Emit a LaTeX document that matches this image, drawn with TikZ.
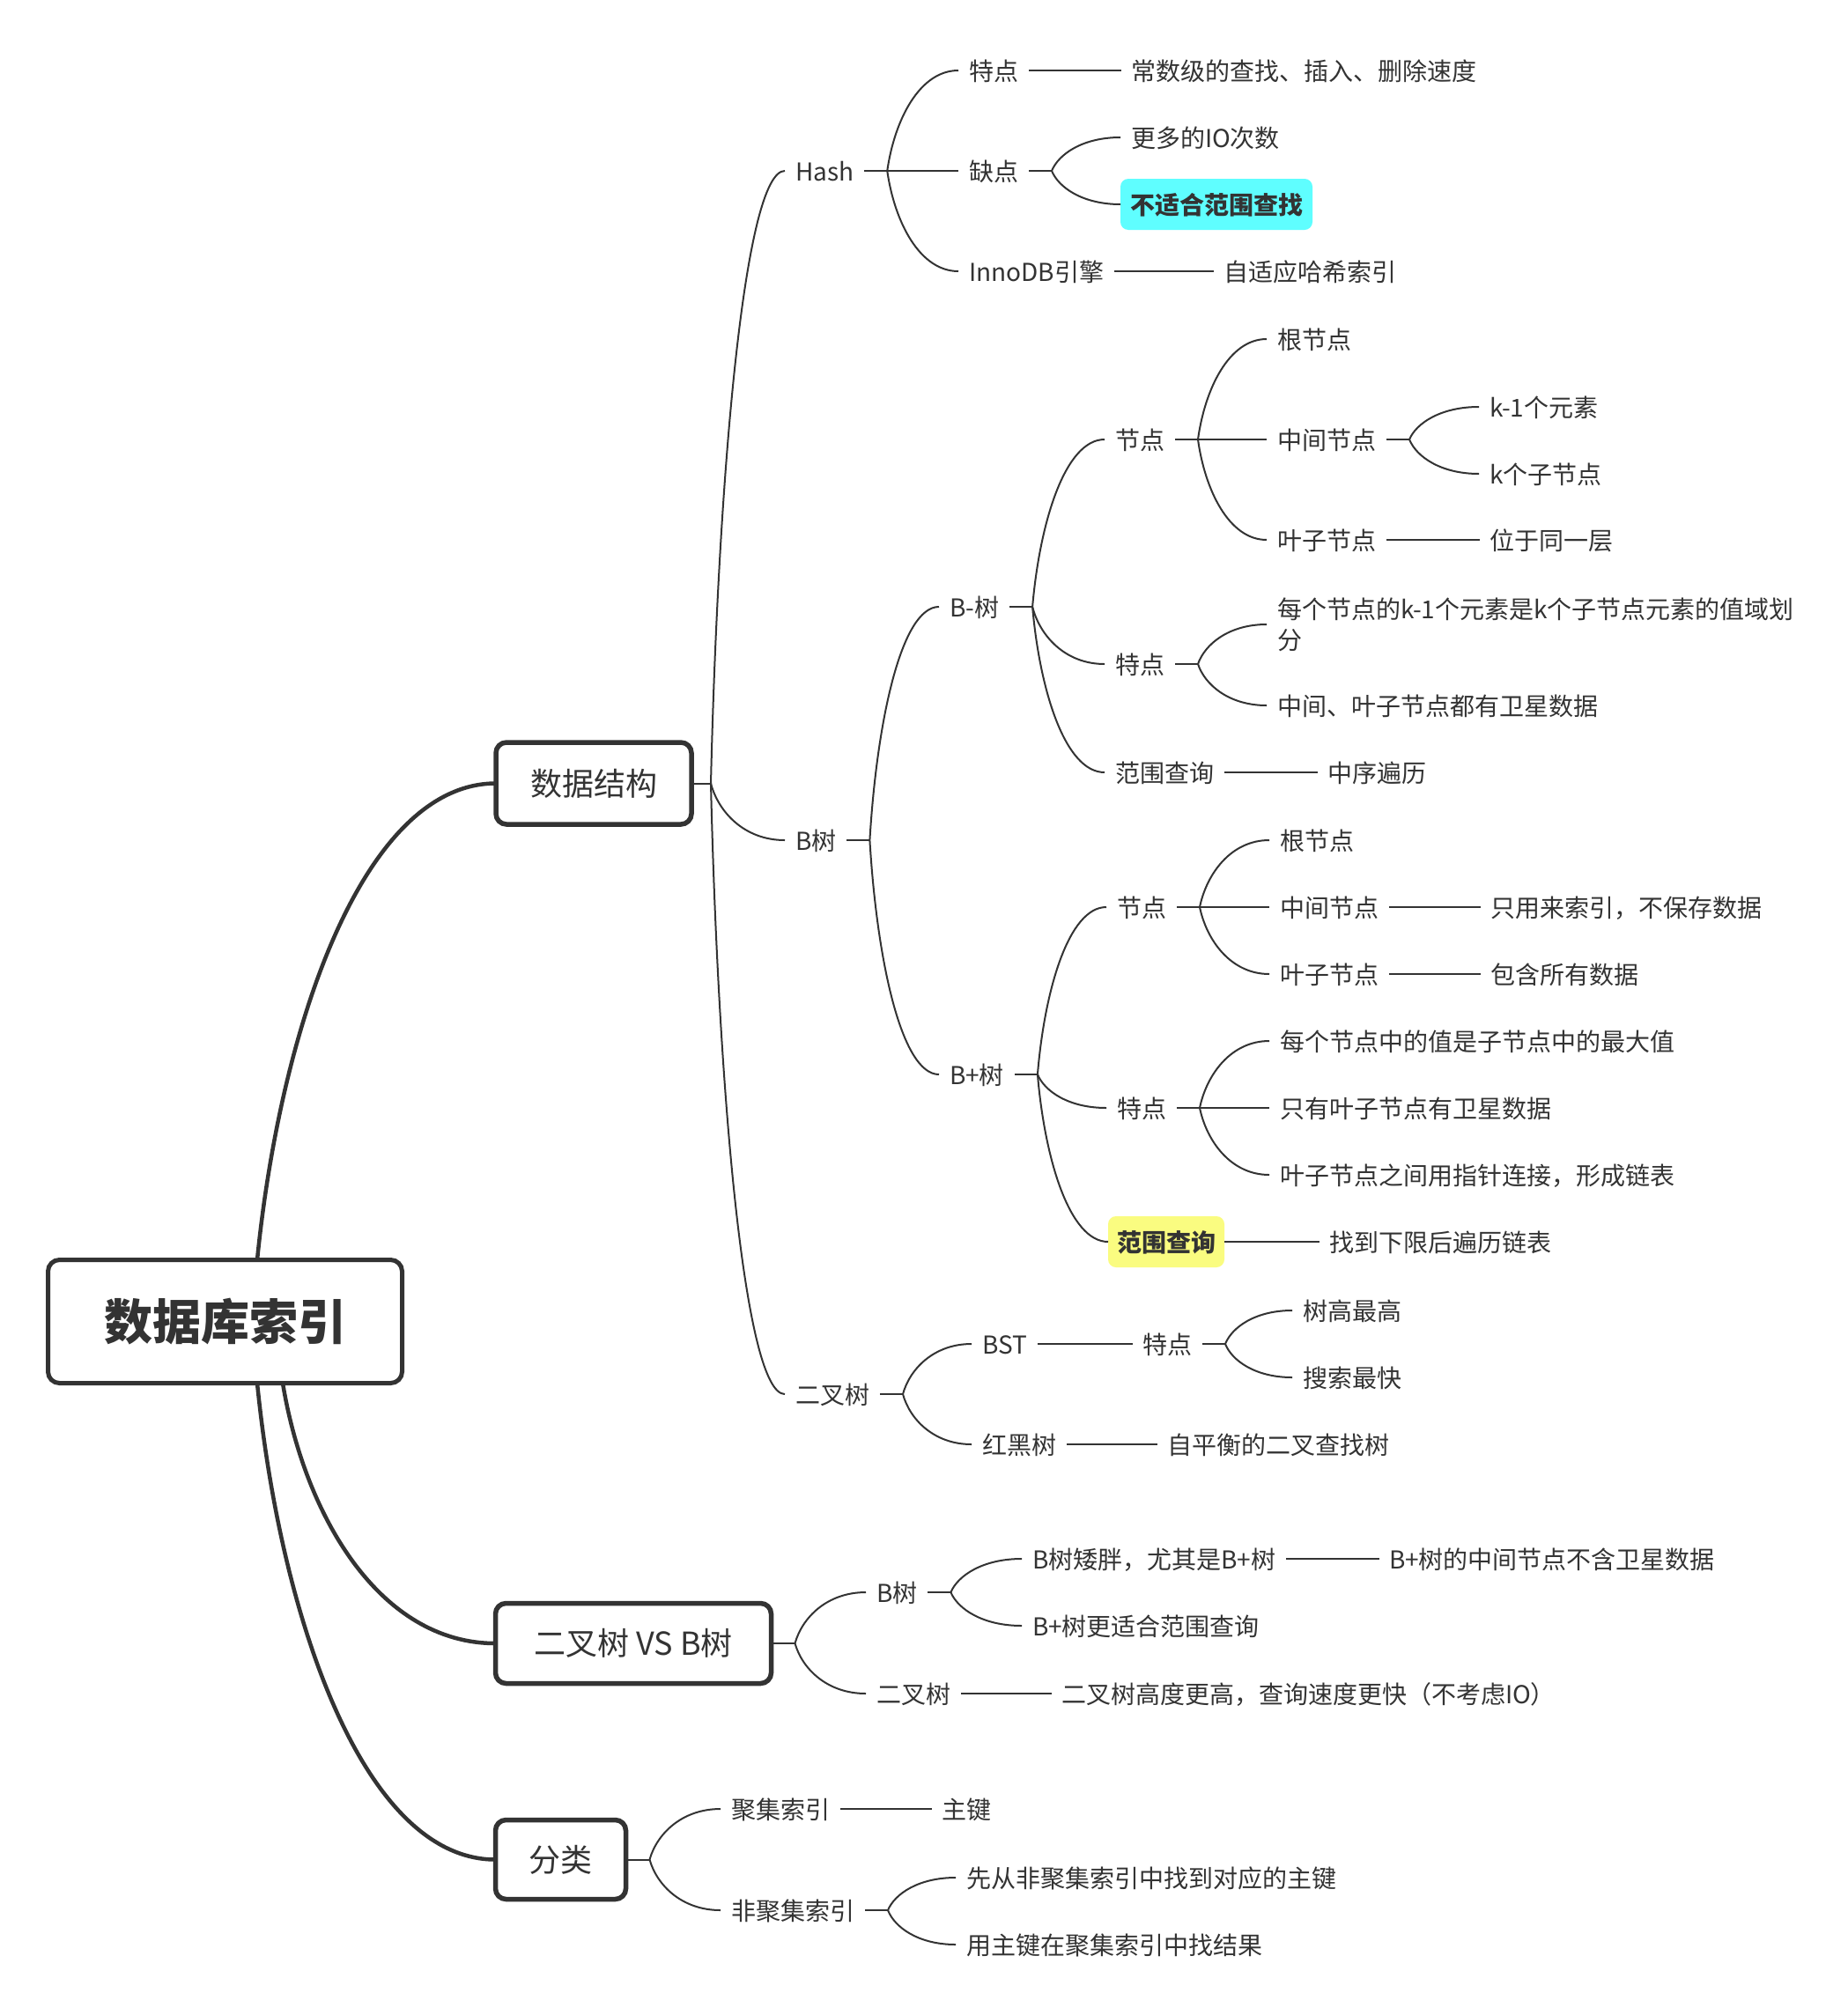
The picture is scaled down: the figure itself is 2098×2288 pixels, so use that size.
\documentclass[tikz,border=0pt]{standalone}
\usepackage{fontspec}
\setmainfont{Noto Sans CJK SC}
\usetikzlibrary{calc}
\definecolor{ink}{HTML}{333333}
\definecolor{hlcyan}{HTML}{5FFEFF}
\definecolor{hlyellow}{HTML}{FAFC80}
\newcommand{\mmcurve}[3][]{\draw[conn,#1] let \p1=(#2), \p2=(#3) in (\p1) .. controls ({\x1+0.1*(\x2-\x1)},{\y1+0.5*(\y2-\y1)}) and ({\x1+0.45*(\x2-\x1)},{\y2}) .. (\p2);}
\newcommand{\jn}[2][38pt]{\coordinate (#2j) at ([xshift=#1]#2.east); \draw[conn] ([xshift=12pt]#2.east) -- (#2j);}
\newcommand{\sline}[2]{\draw[conn] ([xshift=12pt]#1.east) -- ([xshift=-11pt]#2.west);}
\newcommand{\kid}[2]{\mmcurve{#1j}{[xshift=-12pt]#2.west}}
\begin{document}
\begin{tikzpicture}[x=1pt,y=-1pt,
  conn/.style={draw=ink,line width=2pt},
  thickconn/.style={line width=4.5pt},
  t/.style={anchor=west,inner sep=0pt,outer sep=0pt,text=ink,font=\fontsize{28}{35}\selectfont,text height=25.6pt,text depth=2.4pt},
  tt/.style={anchor=west,inner sep=0pt,outer sep=0pt,text=ink,font=\fontsize{28}{35}\selectfont,align=left},
  mainbox/.style={draw=ink,line width=5.5pt,rounded corners=12pt,fill=white,text=ink,font=\fontsize{36}{40}\selectfont,inner sep=0pt,outer sep=0pt},
  rootbox/.style={draw=ink,line width=5pt,rounded corners=13pt,fill=white,text=ink,font=\fontsize{55}{60}\selectfont\bfseries,inner sep=0pt,outer sep=0pt},
  hlbox/.style={anchor=west,rounded corners=9pt,inner xsep=11pt,inner ysep=0pt,outer sep=0pt,minimum height=58pt,text=ink,font=\fontsize{28}{35}\selectfont\bfseries,text height=25.6pt,text depth=2.4pt}
]
\fill[white] (0,0) rectangle (2098,2288);
\useasboundingbox (0,0) rectangle (2098,2288);

% main nodes
\node[rootbox,minimum width=402pt,minimum height=140pt] (root) at (255.5,1500.5) {数据库索引};
\node[mainbox,minimum width=222pt,minimum height=93pt] (ds) at (674,889.5) {数据结构};
\node[mainbox,minimum width=313pt,minimum height=91pt] (vs) at (719,1866) {二叉树 VS B树};
\node[mainbox,minimum width=148pt,minimum height=90pt] (fl) at (636.5,2111.5) {分类};

\coordinate (rt) at ([xshift=36.5pt]root.north);
\coordinate (rb1) at ([xshift=36.5pt]root.south);
\coordinate (rb2) at ([xshift=65.5pt]root.south);
\mmcurve[thickconn]{rt}{ds.west}
\mmcurve[thickconn]{rb2}{vs.west}
\mmcurve[thickconn]{rb1}{fl.west}

% level 2 under 数据结构
\node[t] (hash) at (903,194) {Hash};
\node[t] (bt) at (903,954) {B树};
\node[t] (bin) at (903,1583) {二叉树};
\jn[22pt]{ds}
\draw[conn] (ds.east) -- (dsj);
\kid{ds}{hash}
\kid{ds}{bt}
\kid{ds}{bin}

% Hash
\node[t] (h1) at (1100,80) {特点};
\node[t] (h1a) at (1284,80) {常数级的查找、插入、删除速度};
\node[t] (h2) at (1100,194) {缺点};
\node[t] (h2a) at (1284,156) {更多的IO次数};
\node[hlbox,fill=hlcyan] (h2b) at (1272,232) {不适合范围查找};
\node[t] (h3) at (1100,308) {InnoDB引擎};
\node[t] (h3a) at (1389,308) {自适应哈希索引};
\jn{hash}
\kid{hash}{h1}
\kid{hash}{h2}
\kid{hash}{h3}
\sline{h1}{h1a}
\jn{h2}
\kid{h2}{h2a}
\mmcurve{h2j}{h2b.west}
\sline{h3}{h3a}

% B树
\node[t] (bm) at (1078,689) {B-树};
\node[t] (bp) at (1078,1220) {B+树};
\jn{bt}
\kid{bt}{bm}
\kid{bt}{bp}

% B-树
\node[t] (bm1) at (1266,499) {节点};
\node[t] (bm2) at (1266,754) {特点};
\node[t] (bm3) at (1266,877) {范围查询};
\jn{bm}
\kid{bm}{bm1}
\kid{bm}{bm2}
\kid{bm}{bm3}
\node[t] (bm11) at (1450,385) {根节点};
\node[t] (bm12) at (1450,499) {中间节点};
\node[t] (bm13) at (1450,613) {叶子节点};
\jn{bm1}
\kid{bm1}{bm11}
\kid{bm1}{bm12}
\kid{bm1}{bm13}
\node[t] (bm121) at (1691,462) {k-1个元素};
\node[t] (bm122) at (1691,538) {k个子节点};
\jn{bm12}
\kid{bm12}{bm121}
\kid{bm12}{bm122}
\node[t] (bm131) at (1691,613) {位于同一层};
\sline{bm13}{bm131}
\node[tt] (bm21) at (1450,709) {每个节点的k-1个元素是k个子节点元素的值域划\\分};
\node[t] (bm22) at (1450,801) {中间、叶子节点都有卫星数据};
\jn{bm2}
\kid{bm2}{bm21}
\kid{bm2}{bm22}
\node[t] (bm31) at (1507,877) {中序遍历};
\sline{bm3}{bm31}

% B+树
\node[t] (bp1) at (1268,1030) {节点};
\node[t] (bp2) at (1268,1258) {特点};
\node[hlbox,fill=hlyellow,inner xsep=10pt] (bp3) at (1258,1410) {范围查询};
\jn{bp}
\kid{bp}{bp1}
\kid{bp}{bp2}
\mmcurve{bpj}{bp3.west}
\node[t] (bp11) at (1453,954) {根节点};
\node[t] (bp12) at (1453,1030) {中间节点};
\node[t] (bp13) at (1453,1106) {叶子节点};
\jn{bp1}
\kid{bp1}{bp11}
\kid{bp1}{bp12}
\kid{bp1}{bp13}
\node[t] (bp121) at (1692,1030) {只用来索引，不保存数据};
\sline{bp12}{bp121}
\node[t] (bp131) at (1692,1106) {包含所有数据};
\sline{bp13}{bp131}
\node[t] (bp21) at (1453,1182) {每个节点中的值是子节点中的最大值};
\node[t] (bp22) at (1453,1258) {只有叶子节点有卫星数据};
\node[t] (bp23) at (1453,1334) {叶子节点之间用指针连接，形成链表};
\jn{bp2}
\kid{bp2}{bp21}
\kid{bp2}{bp22}
\kid{bp2}{bp23}
\node[t] (bp31) at (1509,1410) {找到下限后遍历链表};
\draw[conn] (bp3.east) -- ([xshift=-11pt]bp31.west);

% 二叉树
\node[t] (bst) at (1115,1526) {BST};
\node[t] (rbt) at (1115,1640) {红黑树};
\jn{bin}
\kid{bin}{bst}
\kid{bin}{rbt}
\node[t] (bst1) at (1297,1526) {特点};
\sline{bst}{bst1}
\node[t] (bst11) at (1479,1488) {树高最高};
\node[t] (bst12) at (1479,1564) {搜索最快};
\jn{bst1}
\kid{bst1}{bst11}
\kid{bst1}{bst12}
\node[t] (rbt1) at (1325,1640) {自平衡的二叉查找树};
\sline{rbt}{rbt1}

% 二叉树 VS B树
\node[t] (vb) at (995,1808) {B树};
\node[t] (vn) at (995,1923) {二叉树};
\jn[27pt]{vs}
\draw[conn] (vs.east) -- (vsj);
\kid{vs}{vb}
\kid{vs}{vn}
\node[t] (vb1) at (1172,1770) {B树矮胖，尤其是B+树};
\node[t] (vb2) at (1172,1846) {B+树更适合范围查询};
\jn{vb}
\kid{vb}{vb1}
\kid{vb}{vb2}
\node[t] (vb11) at (1577,1770) {B+树的中间节点不含卫星数据};
\sline{vb1}{vb11}
\node[t] (vn1) at (1205,1923) {二叉树高度更高，查询速度更快（不考虑IO）};
\sline{vn}{vn1}

% 分类
\node[t] (f1) at (830,2054) {聚集索引};
\node[t] (f2) at (830,2169) {非聚集索引};
\jn[27pt]{fl}
\draw[conn] (fl.east) -- (flj);
\kid{fl}{f1}
\kid{fl}{f2}
\node[t] (f11) at (1069,2054) {主键};
\sline{f1}{f11}
\node[t] (f21) at (1097,2132) {先从非聚集索引中找到对应的主键};
\node[t] (f22) at (1097,2208) {用主键在聚集索引中找结果};
\jn{f2}
\kid{f2}{f21}
\kid{f2}{f22}
\end{tikzpicture}
\end{document}
